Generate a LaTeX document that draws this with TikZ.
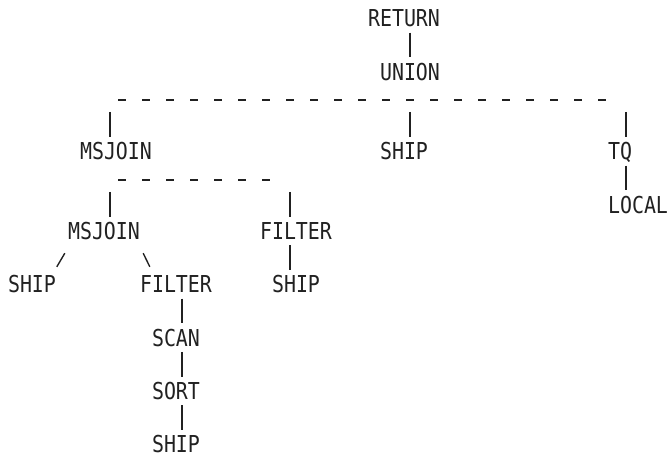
\documentclass[tikz,border=0pt]{standalone}
\usepackage{fontspec}
\newfontfamily\treefont[FakeStretch=0.855]{DejaVu Sans Mono}
\definecolor{ink}{rgb}{0.13,0.13,0.13}
\tikzset{
  word/.style={font={\treefont\fontsize{23.3}{24}\selectfont}, text=ink,
    inner xsep=0pt, inner ysep=5.5pt, text height=17pt, text depth=0pt, anchor=center},
  pipe/.style={draw=ink, line width=1.5pt},
  dashbar/.style={draw=ink, line width=2pt, dash pattern=on 8pt off 16pt},
}
\begin{document}
\begin{tikzpicture}[x=1pt, y=-1pt]
\useasboundingbox (0,0) rectangle (667,455);
% column positions used by connectors
\coordinate (c8) at (110,0);
\coordinate (c14) at (182,0);
\coordinate (c23) at (290,0);
\coordinate (c33) at (410,0);
\coordinate (c51) at (626,0);
% nodes
\node[word] (ret)   at (404,18.4)  {RETURN};
\node[word] (uni)   at (410,71.6)  {UNION};
\node[word] (msj1)  at (116,151.4) {MSJOIN};
\node[word] (ship2) at (404,151.4) {SHIP};
\node[word] (tq)    at (620,151.4) {TQ};
\node[word] (local) at (638,204.6) {LOCAL};
\node[word] (msj2)  at (104,231.2) {MSJOIN};
\node[word] (fil1)  at (296,231.2) {FILTER};
\node[word] (ship1) at (32,284.4)  {SHIP};
\node[word] (fil2)  at (176,284.4) {FILTER};
\node[word] (ship3) at (296,284.4) {SHIP};
\node[word] (scan)  at (176,337.6) {SCAN};
\node[word] (sort)  at (176,390.8) {SORT};
\node[word] (ship4) at (176,444)   {SHIP};
% dashed bars
\coordinate (bar1w) at (118,100);
\coordinate (bar1e) at (606,100);
\coordinate (bar2w) at (118,179.6);
\coordinate (bar2e) at (270,179.6);
\draw[dashbar] (bar1w) -- (bar1e);
\draw[dashbar] (bar2w) -- (bar2e);
% connectors
\draw[pipe] (c33 |- ret.south) -- (c33 |- uni.north);
\draw[pipe, shorten <=11.8pt] (c8 |- bar1w) -- (c8 |- msj1.north);
\draw[pipe, shorten <=11.8pt] (c33 |- bar1w) -- (c33 |- ship2.north);
\draw[pipe, shorten <=11.8pt] (c51 |- bar1w) -- (c51 |- tq.north);
\draw[pipe] (c51 |- tq.south) -- (c51 |- local.north);
\draw[pipe, shorten <=12.2pt] (c8 |- bar2w) -- (c8 |- msj2.north);
\draw[pipe, shorten <=12.2pt] (c23 |- bar2w) -- (c23 |- fil1.north);
\draw[pipe] (c23 |- fil1.south) -- (c23 |- ship3.north);
\draw[pipe] (c14 |- fil2.south) -- (c14 |- scan.north);
\draw[pipe] (c14 |- scan.south) -- (c14 |- sort.north);
\draw[pipe] (c14 |- sort.south) -- (c14 |- ship4.north);
\draw[pipe, line width=1.4pt] ([shift={(-3,7.8)}]msj2.south west) -- ([shift={(49,-3.4)}]ship1.north west);
\draw[pipe, line width=1.4pt] ([shift={(3,7.8)}]msj2.south east) -- ([shift={(10,-3.4)}]fil2.north west);
\end{tikzpicture}
\end{document}
